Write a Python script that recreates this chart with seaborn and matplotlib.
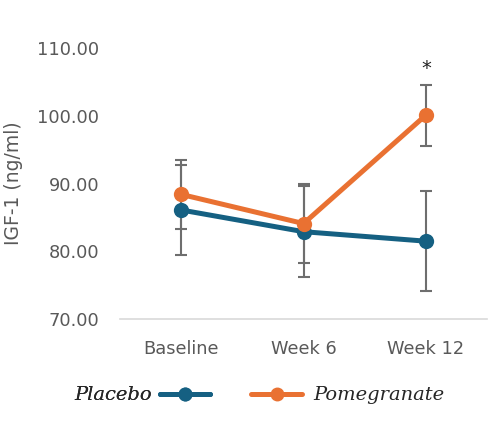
import numpy as np
import pandas as pd
import seaborn as sns
import matplotlib.pyplot as plt

# data
timepoints = ["Baseline", "Week 6", "Week 12"]
placebo_mean = [86.1, 82.9, 81.5]
placebo_err = [6.7, 6.7, 7.4]
pomegranate_mean = [88.4, 84.1, 100.1]
pomegranate_err = [5.1, 5.8, 4.5]
y_ticks = [70, 80, 90, 100, 110]

df = pd.DataFrame({
    "time": timepoints * 2,
    "igf": placebo_mean + pomegranate_mean,
    "group": ["Placebo"] * 3 + ["Pomegranate"] * 3,
})
colors = {"Placebo": "#156082", "Pomegranate": "#E97132"}

sns.set_style("white")
plt.rcParams['font.family'] = ['DejaVu Sans']

fig = plt.figure(figsize=(4.9, 4.36), dpi=100)
ax = fig.add_axes([0.245, 0.268, 0.749, 0.622])

x = np.arange(len(timepoints))
ax.errorbar(x, pomegranate_mean, yerr=pomegranate_err, fmt="none",
            ecolor="#6e6e6e", elinewidth=1.5, capsize=4.5, capthick=1.5, zorder=1)
ax.errorbar(x, placebo_mean, yerr=placebo_err, fmt="none",
            ecolor="#6e6e6e", elinewidth=1.5, capsize=4.5, capthick=1.5, zorder=1)

sns.lineplot(data=df, x="time", y="igf", hue="group", palette=colors,
             marker="o", markersize=11, markeredgewidth=0, linewidth=3.6,
             ax=ax, legend=False, zorder=3)

ax.text(2, 105.6, "*", ha="center", va="bottom", fontsize=14, color="#222222")

ax.set_xlim(-0.5, 2.5)
ax.set_ylim(70, 110)
ax.set_yticks(y_ticks)
ax.set_yticklabels([f"{v:.2f}" for v in y_ticks])
ax.set_xlabel("")
ax.set_ylabel("IGF-1 (ng/ml)", fontsize=13.5, color="#595959", labelpad=10)
ax.tick_params(axis="y", length=0, labelsize=12.8, labelcolor="#595959", pad=15)
ax.tick_params(axis="x", length=0, labelsize=12.8, labelcolor="#595959", pad=15)
for side in ["top", "right", "left"]:
    ax.spines[side].set_visible(False)
ax.spines["bottom"].set_color("#d9d9d9")
ax.spines["bottom"].set_linewidth(1.2)

# legend: label left of handle for placebo, right for pomegranate
h_plac = plt.Line2D([], [], color=colors["Placebo"], marker="o", markersize=9, linewidth=3.6)
h_pome = plt.Line2D([], [], color=colors["Pomegranate"], marker="o", markersize=9, linewidth=3.6)
leg_font = {"family": "DejaVu Serif", "style": "italic", "size": 14}
leg1 = fig.legend([h_plac], ["Placebo"], loc="center", bbox_to_anchor=(0.29, 0.093),
                  frameon=False, markerfirst=False, prop=leg_font, handlelength=2.6,
                  handletextpad=0.4)
fig.add_artist(leg1)
fig.legend([h_pome], ["Pomegranate"], loc="center", bbox_to_anchor=(0.71, 0.093),
           frameon=False, prop=leg_font, handlelength=2.6, handletextpad=0.6)

fig.savefig("out.png", dpi=100)
